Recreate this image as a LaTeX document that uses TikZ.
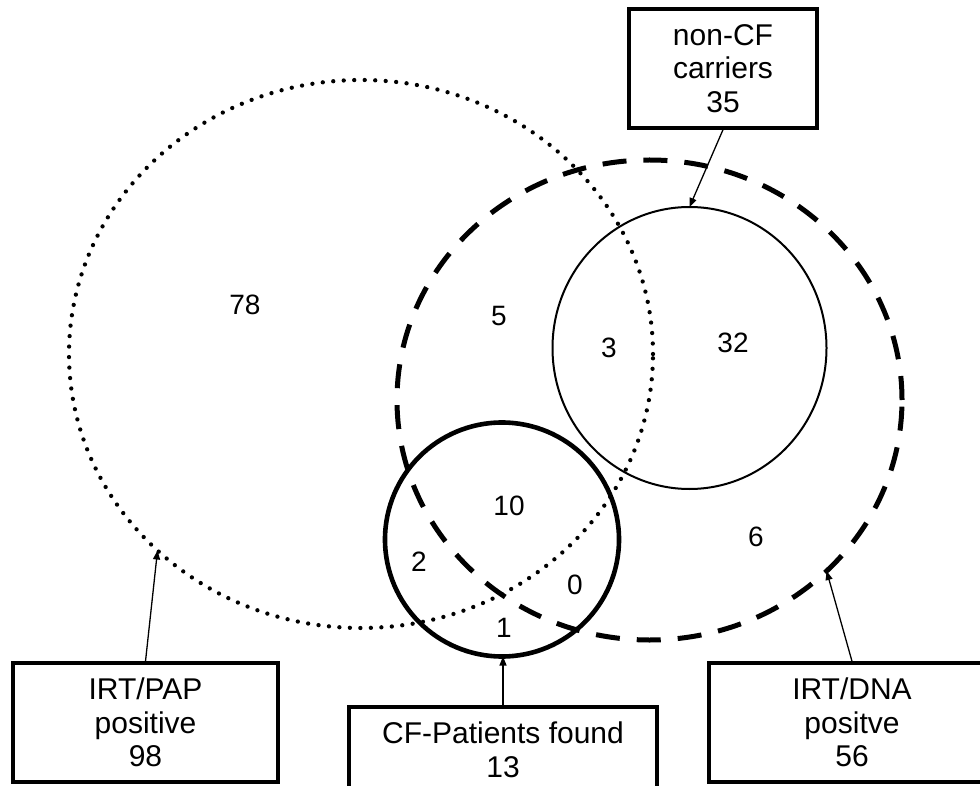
\documentclass[tikz,border=0pt]{standalone}
\usepackage{fontspec}
\setmainfont{Liberation Sans}
\usetikzlibrary{shapes.geometric,arrows.meta}
\begin{document}
\begin{tikzpicture}[x=1pt,y=-1pt,
  setcirc/.style={ellipse, inner sep=0pt, outer sep=0pt},
  dotline/.style={draw, line width=4.3pt, line cap=round, dash pattern=on 0pt off 10.5pt},
  dashline/.style={draw, line width=5pt, dash pattern=on 24pt off 17pt},
  thinline/.style={draw, line width=2pt},
  thickline/.style={draw, line width=4.6pt},
  labelbox/.style={draw, line width=3.4pt, rectangle, inner sep=0pt, align=center, font=\fontsize{30}{33.5}\selectfont},
  num/.style={font=\fontsize{28}{30}\selectfont, inner sep=0pt},
  pointer/.style={line width=1.3pt, -{Triangle[length=9pt,width=7pt]}}
]
\clip (0,0) rectangle (980,786);
\fill[white] (0,0) rectangle (980,786);

% sets
\node[setcirc, dotline, minimum width=584pt, minimum height=548pt] (dotc) at (361,354) {};
\node[setcirc, dashline, minimum width=505pt, minimum height=480pt] (dashc) at (649.5,400) {};
\node[setcirc, thinline, minimum width=274pt, minimum height=282pt] (thinc) at (689.5,348) {};
\node[setcirc, thickline, minimum width=234pt, minimum height=234pt] (thickc) at (502,539.5) {};

% counts
\node[num] (n78) at (245,305) {78};
\node[num] (n5) at (499,316) {5};
\node[num] (n3) at (609,348) {3};
\node[num] (n32) at (733,343) {32};
\node[num] (n10) at (509,506) {10};
\node[num] (n2) at (419,562) {2};
\node[num] (n0) at (575,585) {0};
\node[num] (n1) at (504,628) {1};
\node[num] (n6) at (756,537) {6};

% label boxes
\node[labelbox, minimum width=188pt, minimum height=119pt] (carr) at (723,68.5) {non-CF\\carriers\\35};
\node[labelbox, minimum width=265pt, minimum height=119pt] (pap) at (145.5,722.5) {IRT/PAP\\positive\\98};
\node[labelbox, minimum width=308pt, minimum height=86pt] (cfp) at (503,750) {CF-Patients found\\13};
\node[labelbox, minimum width=286pt, minimum height=119pt] (dna) at (852,722.5) {IRT/DNA\\positve\\56};

% pointers
\draw[pointer] (carr.south) -- (thinc.north);
\draw[pointer] (pap.north) -- (dotc.224);
\draw[pointer] (cfp.north) -- (cfp.north |- thickc.south);
\draw[pointer] (dna.north) -- (dashc.316);
\end{tikzpicture}
\end{document}
